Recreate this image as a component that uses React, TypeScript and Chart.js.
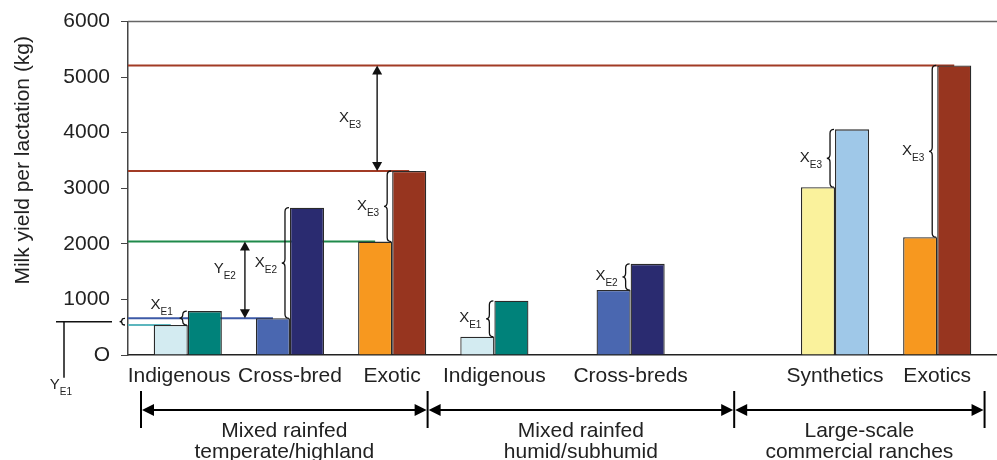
import React, { useEffect, useRef } from 'react';
import { Chart, registerables } from 'chart.js';

Chart.register(...registerables);

const FONT = "'Liberation Sans', Arial, Helvetica, sans-serif";

// Breed groups along the x axis (positions in slot units)
const BREED_LABELS = ['Indigenous', 'Cross-bred', 'Exotic', 'Indigenous', 'Cross-breds', 'Synthetics', 'Exotics'];
const BREED_POS = [0, 3, 6, 9, 13, 19, 22];
const X_MIN = -1.755;
const X_MAX = 23.755;

// Milk yield per lactation (kg)
const CURRENT_YIELD = [540, 660, 2040, 330, 1170, 3020, 2120];
const POTENTIAL_YIELD = [790, 2650, 3310, 975, 1640, 4060, 5210];
const CURRENT_COLORS = ['#d3ebf1', '#4a67b0', '#f7981f', '#d3ebf1', '#4a67b0', '#faf29c', '#f7981f'];
const POTENTIAL_COLORS = ['#00827a', '#2a2b70', '#97351f', '#00827a', '#2a2b70', '#9fc8e8', '#97351f'];

const Y_MIN = 0;
const Y_MAX = 6000;
const Y_STEP = 1000;

// Exploitable yield gap labels (brace per breed group)
const GAP_SUBS = ['E1', 'E2', 'E3', 'E1', 'E2', 'E3', 'E3'];

// Production systems
const SYSTEMS = [
  ['Mixed rainfed', 'temperate/highland'],
  ['Mixed rainfed', 'humid/subhumid'],
  ['Large-scale', 'commercial ranches'],
];
const SYSTEM_BOUNDS = [-1.374, 7.04, 16.04, 23.39];

// Reference lines: [dataset (0 current / 1 potential), group index, colour]
const REF_LINES: [number, number, string][] = [
  [1, 6, '#a23b25'],
  [1, 2, '#a23b25'],
  [0, 2, '#1f8a4b'],
  [0, 1, '#3d5aa7'],
  [0, 0, '#5cb6be'],
];

function drawBrace(ctx: CanvasRenderingContext2D, xr: number, yTop: number, yBot: number, w: number) {
  const xs = xr - w;
  const mid = (yTop + yBot) / 2;
  const r = Math.min(4, Math.abs(yBot - yTop) / 4);
  ctx.beginPath();
  ctx.moveTo(xr, yTop);
  ctx.quadraticCurveTo(xs, yTop, xs, yTop + r);
  ctx.lineTo(xs, mid - r);
  ctx.quadraticCurveTo(xs, mid, xs - w * 0.8, mid);
  ctx.quadraticCurveTo(xs, mid, xs, mid + r);
  ctx.lineTo(xs, yBot - r);
  ctx.quadraticCurveTo(xs, yBot, xr, yBot);
  ctx.stroke();
}

function drawSubLabel(ctx: CanvasRenderingContext2D, main: string, sub: string, xRight: number, yMid: number) {
  ctx.font = `15px ${FONT}`;
  const mw = ctx.measureText(main).width;
  ctx.font = `10px ${FONT}`;
  const sw = ctx.measureText(sub).width;
  const x0 = xRight - mw - sw;
  ctx.fillStyle = '#222';
  ctx.textAlign = 'left';
  ctx.textBaseline = 'alphabetic';
  ctx.font = `15px ${FONT}`;
  ctx.fillText(main, x0, yMid + 5.5);
  ctx.font = `10px ${FONT}`;
  ctx.fillText(sub, x0 + mw, yMid + 11.5);
}

function arrowHead(ctx: CanvasRenderingContext2D, x: number, y: number, dx: number, dy: number, len: number, half: number) {
  ctx.beginPath();
  ctx.moveTo(x, y);
  ctx.lineTo(x - dx * len - dy * half, y - dy * len + dx * half);
  ctx.lineTo(x - dx * len + dy * half, y - dy * len - dx * half);
  ctx.closePath();
  ctx.fill();
}

function doubleArrowV(ctx: CanvasRenderingContext2D, x: number, y1: number, y2: number) {
  ctx.strokeStyle = '#222';
  ctx.fillStyle = '#111';
  ctx.lineWidth = 1.5;
  ctx.beginPath();
  ctx.moveTo(x, y1 + 6);
  ctx.lineTo(x, y2 - 6);
  ctx.stroke();
  arrowHead(ctx, x, y1, 0, -1, 9, 5);
  arrowHead(ctx, x, y2, 0, 1, 9, 5);
}

const annotate = {
  id: 'annotate',
  beforeDatasetsDraw(chart: any) {
    const { ctx, chartArea: a, scales } = chart;
    const y = scales.y;
    ctx.save();
    ctx.strokeStyle = '#666';
    ctx.lineWidth = 1.5;
    ctx.beginPath();
    ctx.moveTo(a.left, a.top);
    ctx.lineTo(a.right, a.top);
    ctx.stroke();
    REF_LINES.forEach(([ds, idx, color]) => {
      const bar = chart.getDatasetMeta(ds).data[idx];
      const val = (ds === 0 ? CURRENT_YIELD : POTENTIAL_YIELD)[idx];
      const py = y.getPixelForValue(val);
      ctx.strokeStyle = color;
      ctx.lineWidth = 2;
      ctx.beginPath();
      ctx.moveTo(a.left, py);
      ctx.lineTo(bar.x, py);
      ctx.stroke();
    });
    ctx.restore();
  },
  afterDatasetsDraw(chart: any) {
    const { ctx, chartArea: a, scales } = chart;
    const x = scales.x;
    const y = scales.y;
    const m0 = chart.getDatasetMeta(0).data;
    const m1 = chart.getDatasetMeta(1).data;
    ctx.save();

    // braces for yield gaps
    ctx.strokeStyle = '#111';
    ctx.lineWidth = 1.3;
    GAP_SUBS.forEach((sub, i) => {
      const dark = m1[i];
      const light = m0[i];
      const boundary = dark.x - dark.width / 2;
      const xr = boundary - 1;
      drawBrace(ctx, xr, dark.y, light.y, 4);
      const spine = xr - 4;
      const mid = (dark.y + light.y) / 2;
      if (i === 0) {
        drawSubLabel(ctx, 'X', sub, spine - 10, mid - 15);
      } else {
        drawSubLabel(ctx, 'X', sub, spine - 8, mid - 2);
      }
    });

    // X_E3 arrow between the two exotic potentials
    const ax = m0[2].x + 2;
    const yHi = y.getPixelForValue(POTENTIAL_YIELD[6]);
    const yLo = y.getPixelForValue(POTENTIAL_YIELD[2]);
    doubleArrowV(ctx, ax, yHi, yLo);
    drawSubLabel(ctx, 'X', 'E3', ax - 16, (yHi + yLo) / 2 - 2);

    // Y_E2 arrow between cross-bred and exotic current yields
    const bx = m0[1].x - m0[1].width / 2 - 11;
    const y2a = y.getPixelForValue(CURRENT_YIELD[2]);
    const y2b = y.getPixelForValue(CURRENT_YIELD[1]);
    doubleArrowV(ctx, bx, y2a, y2b);
    drawSubLabel(ctx, 'Y', 'E2', bx - 9, (y2a + y2b) / 2 - 12);

    // Y_E1 marker at the left of the axis
    ctx.strokeStyle = '#111';
    ctx.lineWidth = 1.3;
    const ya = y.getPixelForValue(CURRENT_YIELD[1]);
    const yb = y.getPixelForValue(CURRENT_YIELD[0]);
    drawBrace(ctx, a.left - 3, ya, yb, 3);
    const ym = (ya + yb) / 2;
    ctx.lineWidth = 1.5;
    ctx.beginPath();
    ctx.moveTo(a.left - 72, ym);
    ctx.lineTo(a.left - 16, ym);
    ctx.moveTo(a.left - 64, ym);
    ctx.lineTo(a.left - 64, ym + 56);
    ctx.stroke();
    drawSubLabel(ctx, 'Y', 'E1', a.left - 56, ym + 62);

    // production system spans
    const ay = a.bottom + 55;
    ctx.strokeStyle = '#000';
    ctx.fillStyle = '#000';
    ctx.lineWidth = 2;
    const px = SYSTEM_BOUNDS.map((v) => x.getPixelForValue(v));
    px.forEach((p) => {
      ctx.beginPath();
      ctx.moveTo(p, a.bottom + 36);
      ctx.lineTo(p, a.bottom + 73);
      ctx.stroke();
    });
    for (let i = 0; i < SYSTEMS.length; i++) {
      const l = px[i] + 1;
      const r = px[i + 1] - 1;
      ctx.beginPath();
      ctx.moveTo(l + 8, ay);
      ctx.lineTo(r - 8, ay);
      ctx.stroke();
      arrowHead(ctx, l, ay, -1, 0, 12, 6);
      arrowHead(ctx, r, ay, 1, 0, 12, 6);
      const cx = (px[i] + px[i + 1]) / 2;
      ctx.fillStyle = '#222';
      ctx.font = `21px ${FONT}`;
      ctx.textAlign = 'center';
      ctx.textBaseline = 'middle';
      ctx.fillText(SYSTEMS[i][0], cx, a.bottom + 76);
      ctx.fillText(SYSTEMS[i][1], cx, a.bottom + 97);
      ctx.fillStyle = '#000';
    }

    // y axis title
    ctx.save();
    ctx.translate(23, (a.top + a.bottom) / 2 - 28);
    ctx.rotate(-Math.PI / 2);
    ctx.fillStyle = '#222';
    ctx.font = `21px ${FONT}`;
    ctx.textAlign = 'center';
    ctx.textBaseline = 'middle';
    ctx.fillText('Milk yield per lactation (kg)', 0, 0);
    ctx.restore();

    ctx.restore();
  },
};

export default function App() {
  const ref = useRef<HTMLCanvasElement | null>(null);
  useEffect(() => {
    if (!ref.current) return;
    const chart = new Chart(ref.current, {
      type: 'bar',
      data: {
        datasets: [
          {
            label: 'Current',
            data: BREED_POS.map((p, i) => ({ x: p, y: CURRENT_YIELD[i] })),
            backgroundColor: CURRENT_COLORS,
            borderColor: '#2a2a2a',
            borderWidth: 1.3,
            categoryPercentage: 2 / 3,
            barPercentage: 1,
          },
          {
            label: 'Potential',
            data: BREED_POS.map((p, i) => ({ x: p, y: POTENTIAL_YIELD[i] })),
            backgroundColor: POTENTIAL_COLORS,
            borderColor: '#2a2a2a',
            borderWidth: 1.3,
            categoryPercentage: 2 / 3,
            barPercentage: 1,
          },
        ],
      },
      options: {
        animation: false,
        responsive: true,
        maintainAspectRatio: false,
        layout: { padding: { top: 17, right: 0, bottom: 0, left: 0 } },
        plugins: { legend: { display: false }, tooltip: { enabled: false } },
        scales: {
          x: {
            type: 'linear',
            offset: false,
            min: X_MIN,
            max: X_MAX,
            afterBuildTicks: (scale: any) => {
              scale.ticks = BREED_POS.map((v) => ({ value: v }));
            },
            afterFit: (scale: any) => {
              scale.height = 105;
            },
            grid: { display: false, drawTicks: false, offset: false },
            border: { display: true, color: '#222', width: 1.5 },
            ticks: {
              autoSkip: false,
              maxRotation: 0,
              minRotation: 0,
              padding: 9,
              color: '#222',
              font: { family: FONT, size: 21 },
              callback: (_v: any, i: number) => (i === 0 ? BREED_LABELS[i] + '   ' : BREED_LABELS[i]),
            },
          },
          y: {
            min: Y_MIN,
            max: Y_MAX,
            afterFit: (scale: any) => {
              scale.width = 128;
            },
            grid: { drawOnChartArea: false, drawTicks: true, tickLength: 7, color: '#444' },
            border: { display: true, color: '#444', width: 1.5 },
            ticks: {
              stepSize: Y_STEP,
              padding: 11,
              color: '#222',
              font: { family: FONT, size: 21, lineHeight: 1 },
              callback: (v: any) => (v === 0 ? 'O' : String(v)),
            },
          },
        },
      },
      plugins: [annotate],
    } as any);
    return () => chart.destroy();
  }, []);
  return (
    <div style={{ position: 'fixed', left: 0, top: 0, width: 997, height: 460, background: '#fff' }}>
      <canvas ref={ref} />
    </div>
  );
}
